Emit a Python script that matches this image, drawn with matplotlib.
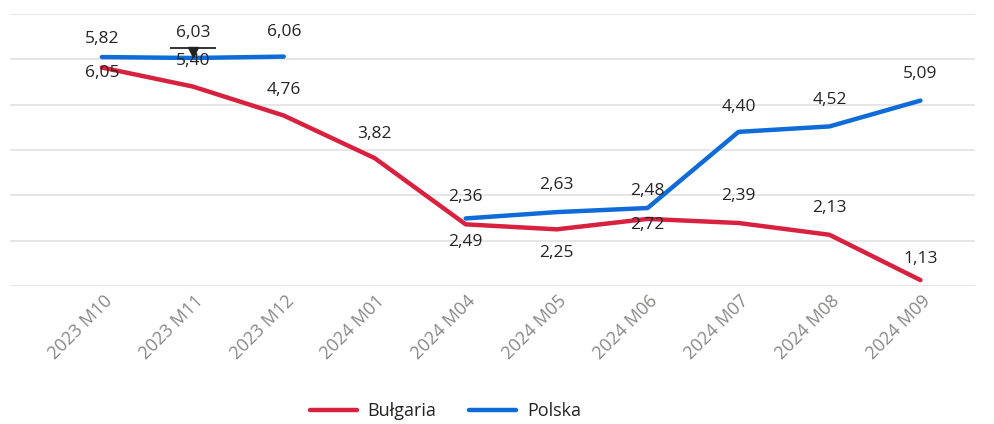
import numpy as np
import matplotlib
matplotlib.use("Agg")
import matplotlib.pyplot as plt
import matplotlib.transforms as mtrans

# --- Data ---
months = ["2023 M10", "2023 M11", "2023 M12", "2024 M01", "2024 M04",
          "2024 M05", "2024 M06", "2024 M07", "2024 M08", "2024 M09"]
bulgaria = [5.82, 5.40, 4.76, 3.82, 2.36, 2.25, 2.48, 2.39, 2.13, 1.13]
polska = [6.05, 6.03, 6.06, np.nan, 2.49, 2.63, 2.72, 4.40, 4.52, 5.09]

# label texts as they appear in the source visual
labels_top = ["5,82", "6,03", "6,06", None, "2,36", "2,63", "2,48", "4,40", "4,52", "5,09"]
labels_low = ["6,05", "5,40", "4,76", "3,82", "2,49", "2,25", "2,72", "2,39", "2,13", "1,13"]
# label centre offsets in pixels (positive = up)
top_offsets = [18, 25, 25, None, 21, 27, 17, 25, 26, 27]
low_offsets = [-6, None, 26, 24, -18, -24, -6, 27, 27, 21]

red = "#D8213F"
blue = "#0F6BD7"
text_col = "#252423"

plt.rcParams["font.family"] = ["Open Sans", "DejaVu Sans"]

fig = plt.figure(figsize=(9.94, 4.24), dpi=100)
ax = fig.add_axes([10 / 994, (424 - 286) / 424, 965 / 994, (286 - 14) / 424])

x = np.arange(len(months))
ax.plot(x, bulgaria, color=red, lw=3.2, solid_capstyle="round", label="Bułgaria")
ax.plot(x, polska, color=blue, lw=3.2, solid_capstyle="round", label="Polska")

ax.set_xlim(-1.01, 9.6)
ax.set_ylim(1, 7)
ax.set_yticks(np.arange(1, 8))
ax.yaxis.grid(True, color="#e1e1e1", lw=1.2)
ax.set_axisbelow(True)
ax.tick_params(axis="y", left=False, labelleft=False)
ax.tick_params(axis="x", length=0, pad=4)
for s in ax.spines.values():
    s.set_visible(False)

ax.set_xticks(x)
ax.set_xticklabels(months, rotation=45, ha="right", rotation_mode="anchor",
                   color="#8a8886", fontsize=13)
shift = mtrans.ScaledTranslation(1 / 100, 0, fig.dpi_scale_trans)
for t in ax.get_xticklabels():
    t.set_transform(t.get_transform() + shift)

px = 72 / 100  # pixels -> points

# data labels
for i in range(len(months)):
    if labels_top[i]:
        top = np.nanmax([bulgaria[i], polska[i]])
        ax.annotate(labels_top[i], (i, top), xytext=(0, top_offsets[i] * px),
                    textcoords="offset points", ha="center", va="center",
                    fontsize=12.5, color=text_col)
    if low_offsets[i] is None:
        # label squeezed just under the blue line
        ax.annotate(labels_low[i], (i, polska[i]), xytext=(0, -3 * px),
                    textcoords="offset points", ha="center", va="center",
                    fontsize=12.5, color=text_col)
    else:
        ax.annotate(labels_low[i], (i, bulgaria[i]), xytext=(0, low_offsets[i] * px),
                    textcoords="offset points", ha="center", va="center",
                    fontsize=12.5, color=text_col)

# small marker over 2023 M11
ax.plot([1], [polska[1]], marker="_", ms=33, mew=1.3, color="#222222",
        transform=ax.transData + mtrans.ScaledTranslation(0, 10 * px / 72, fig.dpi_scale_trans))
ax.plot([1], [polska[1]], marker="v", ms=6.5, color="#222222",
        transform=ax.transData + mtrans.ScaledTranslation(0, 6 * px / 72, fig.dpi_scale_trans))

leg = fig.legend(loc="center", bbox_to_anchor=(0.448, 1 - 411 / 424), ncol=2, frameon=False,
                 fontsize=13, handlelength=2.6, columnspacing=1.8, handletextpad=0.6)
for t in leg.get_texts():
    t.set_color(text_col)

fig.savefig("out.png", dpi=100)
